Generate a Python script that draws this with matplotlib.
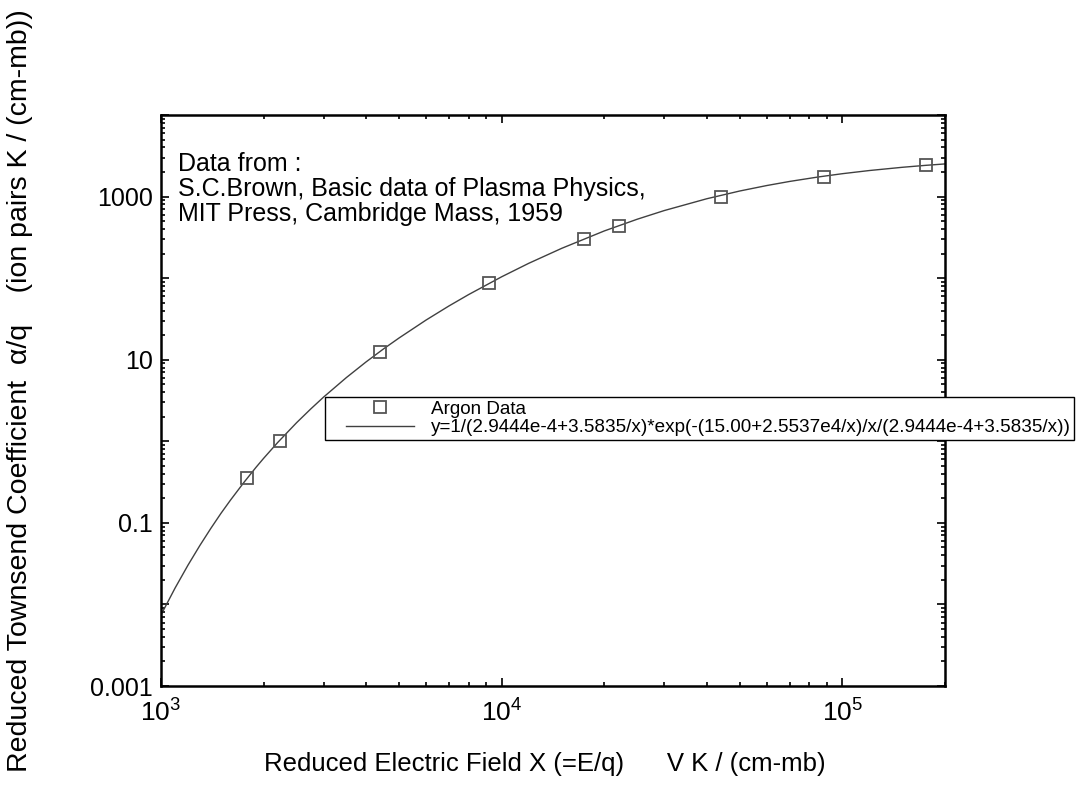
import matplotlib
matplotlib.use("Agg")
import matplotlib.pyplot as plt
from matplotlib.ticker import LogLocator, FixedLocator, FixedFormatter, NullFormatter
from matplotlib.legend_handler import HandlerLine2D

plt.rcParams['font.family'] = ['Liberation Sans', 'DejaVu Sans']
plt.rcParams['mathtext.fontset'] = 'custom'
plt.rcParams['mathtext.rm'] = 'Liberation Sans'
plt.rcParams['mathtext.it'] = 'Liberation Sans:italic'

# Argon data points
data_x = [1790, 2230, 4380, 9200, 17400, 22100, 44000, 88300, 176000]
data_y = [0.35, 1.0, 12.4, 87, 298, 437, 985, 1740, 2470]

# Fitted curve
curve_x = [1000, 1100, 1200, 1300, 1400, 1500, 1600, 1750, 1900, 2000, 2200, 2500,
           2750, 3000, 3500, 4000, 4500, 5000, 6000, 7000, 8000, 10000, 12000,
           15000, 20000, 25000, 30000, 40000, 50000, 60000, 70000, 85000,
           100000, 120000, 150000, 175000, 200000]
curve_y = [0.00744, 0.0159, 0.0303, 0.0527, 0.0854, 0.131, 0.1905, 0.312, 0.479,
           0.617, 0.966, 1.69, 2.487, 3.48, 6.04, 9.41, 13.58, 18.5, 30.67, 45.6,
           62.96, 104, 151.9, 232, 379, 528, 674, 941, 1171, 1366, 1533, 1740,
           1908, 2086, 2286, 2412, 2513]

y_tick_vals = [0.001, 0.1, 10, 1000]
y_tick_labels = ['0.001', '0.1', '10', '1000']
x_tick_vals = [1e3, 1e4, 1e5]
x_tick_labels = ['$10^{3}$', '$10^{4}$', '$10^{5}$']

legend_data = 'Argon Data'
legend_fit = 'y=1/(2.9444e-4+3.5835/x)*exp(-(15.00+2.5537e4/x)/x/(2.9444e-4+3.5835/x))'
note = 'Data from :\nS.C.Brown, Basic data of Plasma Physics,\nMIT Press, Cambridge Mass, 1959'

fig = plt.figure(figsize=(10.89, 8.07), dpi=100)
ax = fig.add_axes([161/1089, 1 - 686/807, (945-161)/1089, (686-115)/807])

line, = ax.plot(curve_x, curve_y, color='#404040', lw=1.0, label=legend_fit, zorder=2)
pts, = ax.plot(data_x, data_y, ls='none', marker='s', ms=8.5, mfc='none',
               mec='#555555', mew=1.3, label=legend_data, zorder=3)

ax.set_xscale('log')
ax.set_yscale('log')
ax.set_xlim(1e3, 2e5)
ax.set_ylim(1e-3, 1e4)

ax.xaxis.set_major_locator(FixedLocator(x_tick_vals))
ax.xaxis.set_major_formatter(FixedFormatter(x_tick_labels))
ax.xaxis.set_minor_locator(LogLocator(base=10, subs=range(2, 10), numticks=20))
ax.xaxis.set_minor_formatter(NullFormatter())

ymaj = [10.0**k for k in range(-3, 5)]
ax.yaxis.set_major_locator(FixedLocator(ymaj))
ax.yaxis.set_major_formatter(FixedFormatter(
    [y_tick_labels[y_tick_vals.index(v)] if v in y_tick_vals else '' for v in
     [0.001, 0.01, 0.1, 1, 10, 100, 1000, 10000]]))
ax.yaxis.set_minor_locator(LogLocator(base=10, subs=range(2, 10), numticks=20))
ax.yaxis.set_minor_formatter(NullFormatter())

ax.tick_params(which='both', direction='in', top=True, right=True, width=1.2, color='black')
ax.tick_params(which='major', length=6, labelsize=18, pad=6)
ax.tick_params(which='minor', length=3)
ax.tick_params(axis='x', which='major', pad=10, labelsize=19)
for s in ax.spines.values():
    s.set_linewidth(1.8)

ax.set_xlabel('Reduced Electric Field X (=E/q)      V K / (cm-mb)', fontsize=18.5)
ax.xaxis.set_label_coords(0.49, -0.115)
ax.set_ylabel('Reduced Townsend Coefficient  α/q    (ion pairs K / (cm-mb))', fontsize=20.5)
ax.yaxis.set_label_coords(-0.163, 0.517)

ax.text(0.0217, 0.935, note, transform=ax.transAxes, fontsize=18, va='top',
        ha='left', linespacing=1.05)

hmap = {pts: HandlerLine2D(xpad=0.9), line: HandlerLine2D(xpad=0.9)}
leg = ax.legend(handles=[pts, line], loc='upper left',
                bbox_to_anchor=((325-161)/784, (686-397)/571),
                fontsize=13.6, frameon=True, fancybox=False, framealpha=1,
                edgecolor='black', borderpad=0.2, labelspacing=0.05,
                handlelength=4.5, handletextpad=0.9, borderaxespad=0,
                handler_map=hmap)
leg.get_frame().set_linewidth(1.0)
leg.set_zorder(10)

fig.savefig('out.png', dpi=100)
